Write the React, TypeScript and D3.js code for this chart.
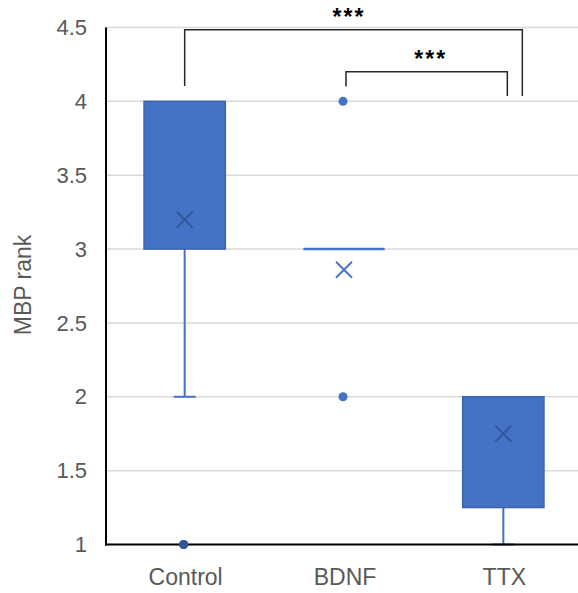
import React, { useEffect, useRef } from "react";
import * as d3 from "d3";

// groups and their box stats
const categories = ["Control", "BDNF", "TTX"];
const q1 = [3, 3, 1.25];
const median = [3, 3, 2];
const q3 = [4, 3, 2];
const whiskerLow = [2, 3, 1];
const whiskerHigh = [4, 3, 2];
const means = [3.2, 2.86, 1.75];
const outliers = [[1], [4, 2], []];

const yTicks = [1, 1.5, 2, 2.5, 3, 3.5, 4, 4.5];

// significance brackets: [from, to, level]
const brackets = [
  { from: "Control", to: "TTX", level: 4.485, label: "***" },
  { from: "BDNF", to: "TTX", level: 4.2, label: "***" },
];

const BLUE = "#4472C4";
const BLUE_DARK = "#2F5597";

export default function App() {
  const svgRef = useRef<SVGSVGElement>(null);

  useEffect(() => {
    const width = 578;
    const height = 593;
    const margin = { top: 27.5, right: -5, bottom: 48.5, left: 105 };

    const svg = d3.select(svgRef.current);
    svg.selectAll("*").remove();

    const x = d3
      .scaleBand()
      .domain(categories)
      .range([margin.left, width - margin.right])
      .paddingInner(0)
      .paddingOuter(0);

    const y = d3
      .scaleLinear()
      .domain([1, 4.5])
      .range([height - margin.bottom, margin.top]);

    const cx = (c: string) => (x(c) as number) + x.bandwidth() / 2;
    const boxW = x.bandwidth() * 0.51;

    // gridlines
    svg
      .append("g")
      .selectAll("line")
      .data(yTicks)
      .enter()
      .append("line")
      .attr("x1", margin.left)
      .attr("x2", width - margin.right)
      .attr("y1", (d) => y(d))
      .attr("y2", (d) => y(d))
      .attr("stroke", "#D9D9D9")
      .attr("stroke-width", 1.5);

    // tick labels
    svg
      .append("g")
      .selectAll("text")
      .data(yTicks)
      .enter()
      .append("text")
      .attr("x", 87)
      .attr("y", (d) => y(d))
      .attr("dy", "0.35em")
      .attr("text-anchor", "end")
      .attr("font-family", "Liberation Sans, Arial, sans-serif")
      .attr("font-size", 22)
      .attr("fill", "#595959")
      .text((d) => String(d));

    svg
      .append("text")
      .attr("transform", `translate(31,${(y(1) + y(4.5)) / 2 - 1}) rotate(-90)`)
      .attr("text-anchor", "middle")
      .attr("font-family", "Liberation Sans, Arial, sans-serif")
      .attr("font-size", 23)
      .attr("fill", "#595959")
      .text("MBP rank");

    // category labels
    svg
      .append("g")
      .selectAll("text")
      .data(categories)
      .enter()
      .append("text")
      .attr("x", (d) => cx(d) + 1)
      .attr("y", 585)
      .attr("text-anchor", "middle")
      .attr("font-family", "Liberation Sans, Arial, sans-serif")
      .attr("font-size", 23)
      .attr("fill", "#595959")
      .text((d) => d);

    // boxes
    const g = svg.append("g");
    categories.forEach((c, i) => {
      const xc = cx(c);
      // whiskers
      const stroke = BLUE;
      if (whiskerLow[i] < q1[i]) {
        g.append("line")
          .attr("x1", xc).attr("x2", xc)
          .attr("y1", y(q1[i])).attr("y2", y(whiskerLow[i]))
          .attr("stroke", stroke).attr("stroke-width", 2);
        g.append("line")
          .attr("x1", xc - 11).attr("x2", xc + 11)
          .attr("y1", y(whiskerLow[i])).attr("y2", y(whiskerLow[i]))
          .attr("stroke", stroke).attr("stroke-width", 2);
      }
      if (whiskerHigh[i] > q3[i]) {
        g.append("line")
          .attr("x1", xc).attr("x2", xc)
          .attr("y1", y(q3[i])).attr("y2", y(whiskerHigh[i]))
          .attr("stroke", stroke).attr("stroke-width", 2);
      }
      if (q3[i] > q1[i]) {
        g.append("rect")
          .attr("x", xc - boxW / 2)
          .attr("width", boxW)
          .attr("y", y(q3[i]))
          .attr("height", y(q1[i]) - y(q3[i]))
          .attr("fill", BLUE)
          .attr("stroke", "#3B64B0")
          .attr("stroke-width", 1.5);
      } else {
        g.append("line")
          .attr("x1", xc - boxW / 2).attr("x2", xc + boxW / 2)
          .attr("y1", y(median[i])).attr("y2", y(median[i]))
          .attr("stroke", BLUE).attr("stroke-width", 2.5);
      }
      // mean marker
      const my = y(means[i]);
      const s = 8;
      const inBox = means[i] > q1[i] && means[i] < q3[i];
      g.append("path")
        .attr("d", `M${xc - s},${my - s}L${xc + s},${my + s}M${xc - s},${my + s}L${xc + s},${my - s}`)
        .attr("stroke", inBox ? BLUE_DARK : BLUE)
        .attr("stroke-width", 1.8)
        .attr("fill", "none");
      // outliers
      outliers[i].forEach((v) => {
        g.append("circle")
          .attr("cx", xc - 1)
          .attr("cy", y(v))
          .attr("r", 4.5)
          .attr("fill", BLUE);
      });
    });

    // axes
    svg
      .append("line")
      .attr("x1", margin.left + 1).attr("x2", margin.left + 1)
      .attr("y1", y(4.5)).attr("y2", y(1) + 1)
      .attr("stroke", "#000").attr("stroke-width", 2);
    svg
      .append("line")
      .attr("x1", margin.left).attr("x2", width)
      .attr("y1", y(1)).attr("y2", y(1))
      .attr("stroke", "#000").attr("stroke-width", 2);

    // outlier on axis drawn above
    categories.forEach((c, i) => {
      outliers[i]
        .filter((v) => v === 1)
        .forEach((v) => {
          svg.append("circle")
            .attr("cx", cx(c) - 1)
            .attr("cy", y(v))
            .attr("r", 4.5)
            .attr("fill", "#2F5597");
        });
    });

    // significance brackets
    const offsets = [
      { l: 0, r: 19, lb: 4.104, rb: 4.036 },
      { l: 2, r: 4, lb: 4.1, rb: 4.036 },
    ];
    brackets.forEach((b, i) => {
      const o = offsets[i];
      const x1 = cx(b.from) + o.l;
      const x2 = cx(b.to) + o.r;
      const top = y(b.level);
      svg
        .append("path")
        .attr("d", `M${x1},${y(o.lb)}V${top}H${x2}V${y(o.rb)}`)
        .attr("fill", "none")
        .attr("stroke", "#262626")
        .attr("stroke-width", 1.5);
      svg
        .append("text")
        .attr("x", i === 0 ? 349 : (x1 + x2) / 2 + 4)
        .attr("y", top - 5)
        .attr("text-anchor", "middle")
        .attr("font-family", "Liberation Sans, Arial, sans-serif")
        .attr("font-weight", "bold")
        .attr("font-size", 23)
        .attr("letter-spacing", 2)
        .attr("fill", "#000")
        .text(b.label);
    });
  }, []);

  return (
    <svg
      ref={svgRef}
      width={578}
      height={593}
      style={{ position: "absolute", left: 0, top: 0, background: "#fff" }}
    />
  );
}
